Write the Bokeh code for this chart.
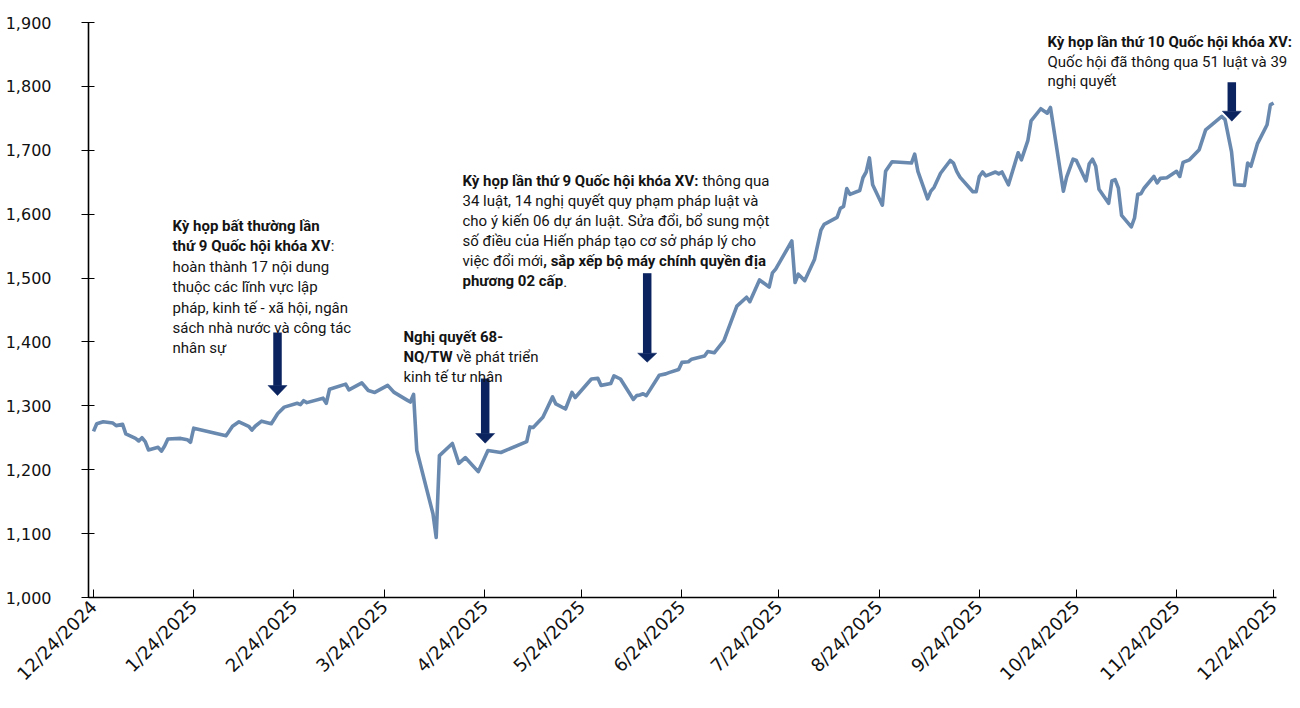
import math
import glob
import pandas as pd
from bokeh.plotting import figure
from bokeh.models import Range1d, FixedTicker, Label, NumeralTickFormatter, ColumnDataSource
from bokeh.embed import file_html
from bokeh.resources import INLINE

# ---------------- data ----------------
DATES = [
    "2024-12-24", "2024-12-25", "2024-12-27", "2024-12-30", "2024-12-31", "2025-01-02", "2025-01-03",
    "2025-01-06", "2025-01-07", "2025-01-08", "2025-01-09", "2025-01-10", "2025-01-13", "2025-01-14",
    "2025-01-15", "2025-01-16", "2025-01-20", "2025-01-22", "2025-01-23", "2025-01-24", "2025-02-03",
    "2025-02-05", "2025-02-07", "2025-02-10", "2025-02-11", "2025-02-12", "2025-02-14", "2025-02-17",
    "2025-02-19", "2025-02-21", "2025-02-25", "2025-02-26", "2025-02-27", "2025-02-28", "2025-03-05",
    "2025-03-06", "2025-03-07", "2025-03-12", "2025-03-13", "2025-03-17", "2025-03-19", "2025-03-21",
    "2025-03-25", "2025-03-27", "2025-03-31", "2025-04-01", "2025-04-02", "2025-04-03", "2025-04-08",
    "2025-04-09", "2025-04-10", "2025-04-14", "2025-04-16", "2025-04-18", "2025-04-22", "2025-04-25",
    "2025-04-29", "2025-05-07", "2025-05-08", "2025-05-09", "2025-05-12", "2025-05-15", "2025-05-16",
    "2025-05-19", "2025-05-21", "2025-05-22", "2025-05-27", "2025-05-29", "2025-05-30", "2025-06-02",
    "2025-06-03", "2025-06-05", "2025-06-09", "2025-06-10", "2025-06-11", "2025-06-12", "2025-06-13",
    "2025-06-17", "2025-06-19", "2025-06-20", "2025-06-23", "2025-06-24", "2025-06-26", "2025-06-27",
    "2025-07-01", "2025-07-02", "2025-07-04", "2025-07-07", "2025-07-11", "2025-07-14", "2025-07-15",
    "2025-07-18", "2025-07-21", "2025-07-22", "2025-07-23", "2025-07-28", "2025-07-29", "2025-07-30",
    "2025-08-01", "2025-08-04", "2025-08-06", "2025-08-07", "2025-08-11", "2025-08-12", "2025-08-13",
    "2025-08-14", "2025-08-15", "2025-08-18", "2025-08-19", "2025-08-20", "2025-08-21", "2025-08-22",
    "2025-08-25", "2025-08-26", "2025-08-28", "2025-09-03", "2025-09-04", "2025-09-05", "2025-09-08",
    "2025-09-09", "2025-09-10", "2025-09-12", "2025-09-15", "2025-09-16", "2025-09-17", "2025-09-18",
    "2025-09-22", "2025-09-23", "2025-09-24", "2025-09-25", "2025-09-26", "2025-09-29", "2025-09-30",
    "2025-10-01", "2025-10-03", "2025-10-06", "2025-10-07", "2025-10-09", "2025-10-10", "2025-10-13",
    "2025-10-15", "2025-10-16", "2025-10-20", "2025-10-21", "2025-10-23", "2025-10-24", "2025-10-27",
    "2025-10-28", "2025-10-29", "2025-10-30", "2025-10-31", "2025-11-03", "2025-11-04", "2025-11-05",
    "2025-11-06", "2025-11-07", "2025-11-10", "2025-11-11", "2025-11-12", "2025-11-13", "2025-11-14",
    "2025-11-17", "2025-11-18", "2025-11-19", "2025-11-21", "2025-11-24", "2025-11-25", "2025-11-26",
    "2025-11-28", "2025-12-01", "2025-12-03", "2025-12-08", "2025-12-09", "2025-12-11", "2025-12-12",
    "2025-12-15", "2025-12-16", "2025-12-17", "2025-12-19", "2025-12-22", "2025-12-23", "2025-12-24",
]
VNINDEX = [
    1260, 1272, 1275, 1273, 1269, 1271, 1256,
    1249, 1245, 1250, 1244, 1231, 1235, 1229,
    1237, 1248, 1249, 1247, 1243, 1265, 1253,
    1268, 1275, 1268, 1262, 1268, 1276, 1272,
    1288, 1298, 1304, 1302, 1308, 1305, 1312,
    1304, 1326, 1334, 1325, 1336, 1324, 1321,
    1332, 1321, 1309, 1306, 1318, 1230, 1131,
    1094, 1222, 1241, 1210, 1219, 1197, 1230,
    1227, 1244, 1267, 1266, 1282, 1314, 1303,
    1295, 1321, 1313, 1342, 1343, 1332, 1335,
    1347, 1342, 1310, 1316, 1317, 1319, 1316,
    1348, 1350, 1352, 1357, 1368, 1369, 1373,
    1378, 1385, 1383, 1402, 1456, 1470, 1463,
    1497, 1486, 1508, 1514, 1558, 1493, 1506,
    1496, 1529, 1575, 1584, 1595, 1609, 1612,
    1640, 1631, 1637, 1657, 1666, 1688, 1646,
    1614, 1667, 1682, 1680, 1694, 1667, 1624,
    1636, 1642, 1664, 1684, 1680, 1667, 1658,
    1635, 1635, 1659, 1666, 1660, 1666, 1663,
    1666, 1646, 1696, 1685, 1715, 1746, 1765,
    1758, 1767, 1636, 1658, 1686, 1684, 1652,
    1679, 1686, 1675, 1639, 1617, 1652, 1654,
    1641, 1598, 1580, 1594, 1631, 1632, 1641,
    1659, 1649, 1656, 1657, 1667, 1659, 1681,
    1685, 1701, 1732, 1753, 1748, 1698, 1646,
    1645, 1680, 1675, 1710, 1740, 1771, 1774,
]
TICK_DATES = ["2024-12-24", "2025-01-24", "2025-02-24", "2025-03-24", "2025-04-24", "2025-05-24",
              "2025-06-24", "2025-07-24", "2025-08-24", "2025-09-24", "2025-10-24", "2025-11-24",
              "2025-12-24"]
TICK_LABELS = ["12/24/2024", "1/24/2025", "2/24/2025", "3/24/2025", "4/24/2025", "5/24/2025",
               "6/24/2025", "7/24/2025", "8/24/2025", "9/24/2025", "10/24/2025", "11/24/2025",
               "12/24/2025"]
Y_TICKS = [1000, 1100, 1200, 1300, 1400, 1500, 1600, 1700, 1800, 1900]

# ---------------- helpers for placing annotations ----------------
ORIGIN = pd.Timestamp("2024-12-24")
PX_PER_DAY = 3.233


def ms(ts):
    return int(pd.Timestamp(ts).value // 10**6)


def xd(px):
    """reference pixel column -> datetime (ms)"""
    return ms(ORIGIN + pd.Timedelta(days=(px - 93) / PX_PER_DAY))


def yv(py):
    """reference pixel row -> index value"""
    return 1000 + (597 - py) * 900 / 575


LINE_COLOR = "#6A89AF"
ARROW_COLOR = "#0B2460"
TEXT_COLOR = "#141414"
FONT = "Roboto"
FSIZE = 15

# text width measurement (for mixed bold/regular lines)
_fonts = {}


def _font(bold):
    key = bold
    if key in _fonts:
        return _fonts[key]
    f = None
    try:
        from PIL import ImageFont
        pat = "Roboto-Bold.ttf" if bold else "Roboto-Regular.ttf"
        hits = []
        for root in ("/usr/share/fonts", "/usr/local/share/fonts", "/root/.fonts"):
            hits += glob.glob(root + "/**/" + pat, recursive=True)
        if hits:
            f = ImageFont.truetype(hits[0], 100)
    except Exception:
        f = None
    _fonts[key] = f
    return f


def text_w(s, bold, fallback):
    f = _font(bold)
    if f is None:
        return fallback
    try:
        return f.getlength(s) * FSIZE / 100.0
    except Exception:
        return fallback


# ---------------- figure ----------------
p = figure(width=1300, height=708, output_backend="svg", toolbar_location=None,
           x_axis_type="datetime",
           x_range=Range1d(xd(88), xd(1300)), y_range=Range1d(1000, 1900),
           min_border_left=88, min_border_right=0, min_border_top=22, min_border_bottom=111)
p.outline_line_color = None
p.xgrid.grid_line_color = None
p.ygrid.grid_line_color = None
p.background_fill_color = "white"
p.border_fill_color = "white"

src = ColumnDataSource(dict(date=pd.to_datetime(DATES), value=VNINDEX))
p.line("date", "value", source=src, line_color=LINE_COLOR, line_width=3.6, line_join="round")

# axes
tick_ms = [ms(d) for d in TICK_DATES]
p.xaxis.bounds = (xd(88), xd(1276))
p.xaxis.ticker = FixedTicker(ticks=tick_ms)
p.xaxis.major_label_overrides = {t: lab for t, lab in zip(tick_ms, TICK_LABELS)}
p.xaxis.major_label_orientation = math.pi / 4
p.xaxis.major_tick_in = 8
p.xaxis.major_tick_out = 0
p.xaxis.minor_tick_line_color = None
p.xaxis.major_label_standoff = 6
p.xaxis.axis_line_width = 1.6
p.xaxis.axis_line_color = "black"
p.xaxis.major_tick_line_color = "black"
p.xaxis.major_label_text_font = "DejaVu Sans"
p.xaxis.major_label_text_font_size = "18px"
p.xaxis.major_label_text_color = "#111111"

p.yaxis.ticker = FixedTicker(ticks=Y_TICKS)
p.yaxis.formatter = NumeralTickFormatter(format="0,0")
p.yaxis.major_tick_in = 6
p.yaxis.major_tick_out = 7
p.yaxis.minor_tick_line_color = None
p.yaxis.major_label_standoff = 30
p.yaxis.axis_line_width = 1.6
p.yaxis.axis_line_color = "black"
p.yaxis.major_tick_line_color = "black"
p.yaxis.major_label_text_font = "DejaVu Sans"
p.yaxis.major_label_text_font_size = "16px"
p.yaxis.major_label_text_color = "#111111"

# ---------------- arrows ----------------
ARROWS = [  # centre px, shaft top, head base, tip (reference pixel rows)
    (277, 332, 385, 395),
    (484.7, 378, 433, 442.7),
    (646.7, 272.7, 352.7, 361.7),
    (1231.3, 81.7, 110.7, 120.7),
]
for cx, top, base, tip in ARROWS:
    p.segment(x0=[xd(cx)], y0=[yv(top)], x1=[xd(cx)], y1=[yv(base) - 0.5], line_color=ARROW_COLOR,
              line_width=8.5, line_cap="butt")
    p.patch(x=[xd(cx - 9.5), xd(cx + 9.5), xd(cx)], y=[yv(base), yv(base), yv(tip)],
            fill_color=ARROW_COLOR, line_color=ARROW_COLOR, line_width=0.5)


# ---------------- text annotations ----------------
def add_line(x_px, base_py, parts):
    """parts: list of (text, bold, fallback_offset_px)"""
    off = 0.0
    for txt, bold, fb in parts:
        stripped = txt.lstrip(" ")
        lead = txt[:len(txt) - len(stripped)]
        if lead:
            off += text_w(lead, bold, 4.0)
        if fb is not None and _font(bold) is None:
            off = fb
        p.add_layout(Label(x=xd(x_px), y=yv(base_py), x_offset=off, text=stripped,
                           text_font=FONT, text_font_size=f"{FSIZE}px",
                           text_font_style="bold" if bold else "normal",
                           text_color=TEXT_COLOR, text_baseline="alphabetic", text_align="left"))
        off += text_w(stripped, bold, 0.0)


LH = 20.4
# annotation 1
a1 = [
    [("Kỳ họp bất thường lần", True, None)],
    [("thứ 9 Quốc hội khóa XV", True, None), (":", False, 164)],
    [("hoàn thành 17 nội dung", False, None)],
    [("thuộc các lĩnh vực lập", False, None)],
    [("pháp, kinh tế - xã hội, ngân", False, None)],
    [("sách nhà nước và công tác", False, None)],
    [("nhân sự", False, None)],
]
for i, parts in enumerate(a1):
    add_line(172, 225.5 + i * LH, parts)

# annotation 2
a2 = [
    [("Nghị quyết 68-", True, None)],
    [("NQ/TW", True, None), (" về phát triển", False, 42)],
    [("kinh tế tư nhân", False, None)],
]
for i, parts in enumerate(a2):
    add_line(403, 336 + i * 20.2, parts)

# annotation 3
a3 = [
    [("Kỳ họp lần thứ 9 Quốc hội khóa XV:", True, None), (" thông qua", False, 247)],
    [("34 luật, 14 nghị quyết quy phạm pháp luật và", False, None)],
    [("cho ý kiến 06 dự án luật. Sửa đổi, bổ sung một", False, None)],
    [("số điều của Hiến pháp tạo cơ sở pháp lý cho", False, None)],
    [("việc đổi mới", False, None), (", sắp xếp bộ máy chính quyền địa", True, 79)],
    [("phương 02 cấp", True, None), (".", False, 100)],
]
for i, parts in enumerate(a3):
    add_line(462, 180.3 + i * 20.05, parts)

# annotation 4
a4 = [
    [("Kỳ họp lần thứ 10 Quốc hội khóa XV:", True, None)],
    [("Quốc hội đã thông qua 51 luật và 39", False, None)],
    [("nghị quyết", False, None)],
]
for i, parts in enumerate(a4):
    add_line(1047, 41.5 + i * 19.6, parts)

open("out.html", "w").write(file_html(p, INLINE))
